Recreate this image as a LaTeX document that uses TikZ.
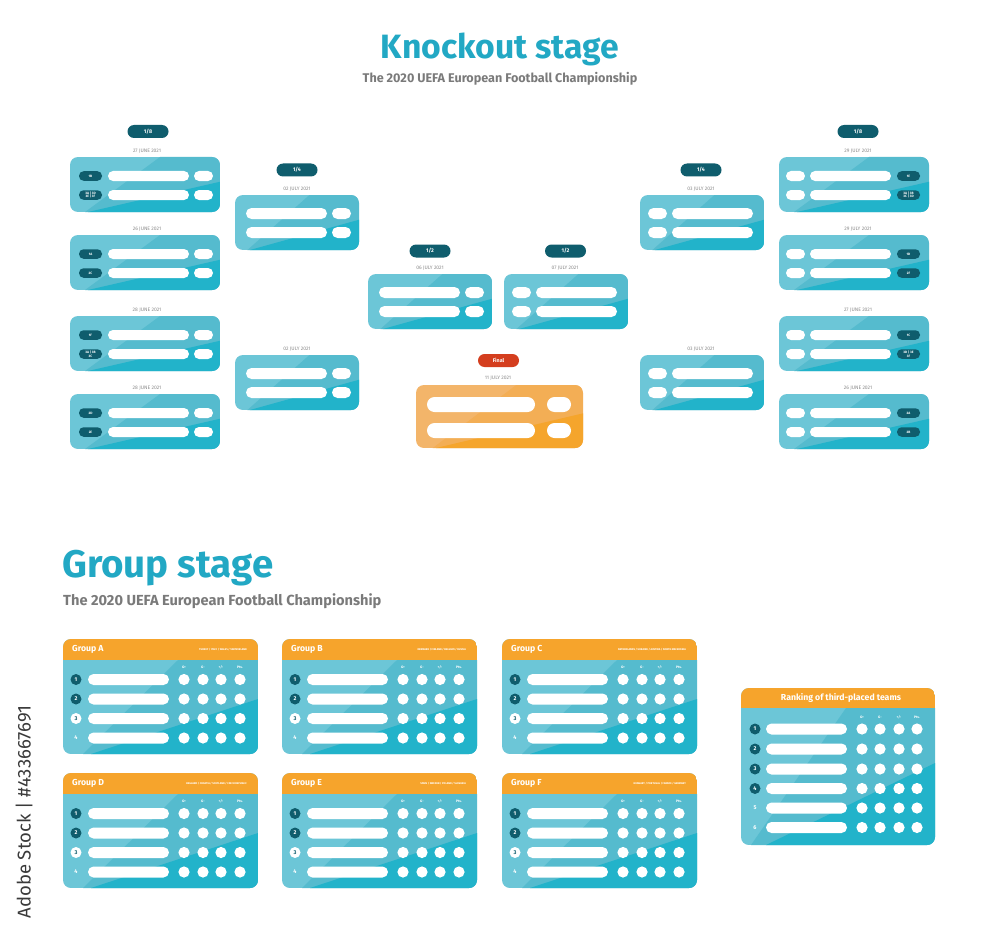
\documentclass[tikz,border=0pt]{standalone}
\usepackage{fontspec}
\setmainfont{Fira Sans}
\definecolor{titleteal}{HTML}{22A8C4}
\definecolor{subgrey}{HTML}{7A7A7A}
\definecolor{dategrey}{HTML}{8C8C8C}
\definecolor{darkteal}{HTML}{0F5D6D}
\definecolor{cardlight}{HTML}{6CC6D7}
\definecolor{cardmid}{HTML}{55BBCE}
\definecolor{cardbright}{HTML}{22B3CA}
\definecolor{headorange}{HTML}{F6A42C}
\definecolor{finallight}{HTML}{F3B56A}
\definecolor{finalmid}{HTML}{F3AE55}
\definecolor{finalbright}{HTML}{F5A52C}
\definecolor{finalred}{HTML}{D43E1E}
\definecolor{wmgrey}{HTML}{3A3A3A}
\tikzset{
  kopill/.style={fill=darkteal, rounded corners=6.5pt, minimum width=41pt, minimum height=13pt, inner sep=0pt, text=white, font=\bfseries\fontsize{5.3}{6}\selectfont},
  datelbl/.style={text=dategrey, font=\fontsize{5}{6}\selectfont, inner sep=0pt},
  tagp/.style={fill=darkteal, rounded corners=4.5pt, minimum width=23pt, minimum height=9.5pt, inner sep=0pt, text=white, align=center, font=\bfseries\fontsize{3.3}{3.4}\selectfont},
  grouptitle/.style={text=white, inner sep=0pt, font=\bfseries\fontsize{8.7}{10}\selectfont},
  countries/.style={text=white, inner sep=0pt, font=\bfseries\fontsize{2.6}{3}\selectfont},
  colhead/.style={text=white, inner sep=0pt, font=\bfseries\fontsize{3.4}{4}\selectfont},
  numdark/.style={circle, fill=darkteal, minimum size=11pt, inner sep=0pt, text=white, font=\bfseries\fontsize{5.5}{6}\selectfont},
  numwhite/.style={circle, fill=white, minimum size=11pt, inner sep=0pt, text=darkteal, font=\bfseries\fontsize{5.5}{6}\selectfont},
  numplain/.style={circle, minimum size=11pt, inner sep=0pt, text=white, font=\bfseries\fontsize{5.5}{6}\selectfont},
}
% card background: x y w h light mid bright
\newcommand{\cardbg}[7]{%
  \begin{scope}[shift={(#1,#2)}]
    \clip[rounded corners=8pt] (0,0) rectangle (#3,#4);
    \fill[#5] (0,0) rectangle (#3,#4);
    \fill[#6] (0.6*#3,0) -- (#3,0) -- (#3,#4) -- (0.1*#3,#4) -- cycle;
    \fill[#7] (0.12*#3,#4) -- (#3,0.45*#4) -- (#3,#4) -- cycle;
  \end{scope}}
% left round of 16 card: name y date label1 label2
\newcommand{\eightL}[5]{%
  \cardbg{70}{#2}{150}{55}{cardlight}{cardmid}{cardbright}
  \node[datelbl] (#1d) at (147,#2-6) {#3};
  \begin{scope}[shift={(70,#2)}]
    \fill[white, rounded corners=5pt] (38,14) rectangle (119,24);
    \fill[white, rounded corners=5pt] (124,14) rectangle (143,24);
    \fill[white, rounded corners=5pt] (38,33) rectangle (119,43);
    \fill[white, rounded corners=5pt] (124,33) rectangle (143,43);
    \node[tagp] (#1a) at (20.5,19) {#4};
    \node[tagp] (#1b) at (20.5,38) {#5};
  \end{scope}}
\newcommand{\eightR}[5]{%
  \cardbg{779}{#2}{150}{55}{cardlight}{cardmid}{cardbright}
  \node[datelbl] (#1d) at (858,#2-6) {#3};
  \begin{scope}[shift={(779,#2)}]
    \fill[white, rounded corners=5pt] (7,14) rectangle (26,24);
    \fill[white, rounded corners=5pt] (31,14) rectangle (112,24);
    \fill[white, rounded corners=5pt] (7,33) rectangle (26,43);
    \fill[white, rounded corners=5pt] (31,33) rectangle (112,43);
    \node[tagp] (#1a) at (129.5,19) {#4};
    \node[tagp] (#1b) at (129.5,38) {#5};
  \end{scope}}
% quarter / semi cards: name x y datex date
\newcommand{\qL}[5]{%
  \cardbg{#2}{#3}{124}{55}{cardlight}{cardmid}{cardbright}
  \node[datelbl] (#1d) at (#4,#3-6) {#5};
  \begin{scope}[shift={(#2,#3)}]
    \fill[white, rounded corners=5.5pt] (11,13) rectangle (92,24);
    \fill[white, rounded corners=5.5pt] (97,13) rectangle (116,24);
    \fill[white, rounded corners=5.5pt] (11,32) rectangle (92,43);
    \fill[white, rounded corners=5.5pt] (97,32) rectangle (116,43);
  \end{scope}}
\newcommand{\qR}[5]{%
  \cardbg{#2}{#3}{124}{55}{cardlight}{cardmid}{cardbright}
  \node[datelbl] (#1d) at (#4,#3-6) {#5};
  \begin{scope}[shift={(#2,#3)}]
    \fill[white, rounded corners=5.5pt] (8,13) rectangle (27,24);
    \fill[white, rounded corners=5.5pt] (32,13) rectangle (113,24);
    \fill[white, rounded corners=5.5pt] (8,32) rectangle (27,43);
    \fill[white, rounded corners=5.5pt] (32,32) rectangle (113,43);
  \end{scope}}
% group card: name x y title countries
\newcommand{\groupcard}[5]{%
  \begin{scope}[shift={(#2,#3)}]
    \begin{scope}
      \clip[rounded corners=8pt] (0,0) rectangle (195,115);
      \fill[cardlight] (0,0) rectangle (195,115);
      \fill[cardmid] (115,21) -- (195,21) -- (195,115) -- (20,115) -- cycle;
      \fill[cardbright] (28,115) -- (195,60) -- (195,115) -- cycle;
      \fill[headorange] (0,0) rectangle (195,21);
    \end{scope}
    \node[grouptitle, anchor=west] (#1t) at (9,10.5) {#4};
    \node[countries, anchor=east] (#1c) at (184,10.5) {#5};
    \node[colhead] (#1h1) at (121,28) {G+};
    \node[colhead] (#1h2) at (140,28) {G-};
    \node[colhead] (#1h3) at (158,28) {+/-};
    \node[colhead] (#1h4) at (177,28) {Pts.};
    \foreach \yy/\nn/\st in {40.5/1/numdark, 60/2/numdark, 79.5/3/numwhite, 99/4/numplain} {
      \node[\st] (#1n\nn) at (13,\yy) {\nn};
      \fill[white, rounded corners=5.5pt] (25,\yy-5.5) rectangle (106,\yy+5.5);
      \foreach \xx in {121,140,158,177} \fill[white] (\xx,\yy) circle (5.6pt);
    }
  \end{scope}}
\begin{document}
\begin{tikzpicture}[x=1pt,y=-1pt]
\useasboundingbox (0,0) rectangle (1000,944);
\fill[white] (0,0) rectangle (1000,944);

% Titles
\node[text=titleteal, font=\bfseries\fontsize{33.7}{40}\selectfont] (ktitle) at (500,49) {Knockout stage};
\node[text=subgrey, font=\bfseries\fontsize{12.6}{15}\selectfont] (ksub) at (500,79) {The 2020 UEFA European Football Championship};
\node[text=titleteal, anchor=west, inner sep=0pt, font=\bfseries\fontsize{38.5}{44}\selectfont] (gtitle) at (62,568) {Group stage};
\node[text=subgrey, anchor=west, inner sep=0pt, font=\bfseries\fontsize{14.6}{17}\selectfont] (gsub) at (63,601) {The 2020 UEFA European Football Championship};

% Round labels
\node[kopill] (p8l) at (148,131.5) {1/8};
\node[kopill] (p8r) at (858,131.5) {1/8};
\node[kopill] (p4l) at (297,170) {1/4};
\node[kopill] (p4r) at (701,170) {1/4};
\node[kopill] (p2l) at (430,251) {1/2};
\node[kopill] (p2r) at (565.5,251) {1/2};
\node[kopill, fill=finalred] (pf) at (498.5,360.5) {Final};

% Round of 16, left
\eightL{l1}{157}{27 JUNE 2021}{1B}{3A | 3D\\3E | 3F}
\eightL{l2}{235}{26 JUNE 2021}{1A}{2C}
\eightL{l3}{316}{28 JUNE 2021}{1F}{3A | 3B\\3C}
\eightL{l4}{394}{28 JUNE 2021}{2D}{2E}
% Round of 16, right
\eightR{r1}{157}{29 JULY 2021}{1E}{3A | 3B\\3C | 3D}
\eightR{r2}{235}{29 JULY 2021}{1D}{2F}
\eightR{r3}{316}{27 JUNE 2021}{1C}{3D | 3E\\3F}
\eightR{r4}{394}{26 JUNE 2021}{2A}{2B}

% Quarter finals
\qL{ql1}{235}{195}{297}{02 JULY 2021}
\qL{ql2}{235}{355}{297}{02 JULY 2021}
\qR{qr1}{640}{195}{701}{03 JULY 2021}
\qR{qr2}{640}{355}{701}{03 JULY 2021}
% Semi finals
\qL{sl}{368}{274}{430}{06 JULY 2021}
\qR{sr}{504}{274}{565}{07 JULY 2021}

% Final
\cardbg{416}{385}{167}{63}{finallight}{finalmid}{finalbright}
\node[datelbl] (fd) at (498,378) {11 JULY 2021};
\begin{scope}[shift={(416,385)}]
  \fill[white, rounded corners=7.5pt] (11,12) rectangle (119,27);
  \fill[white, rounded corners=7.5pt] (131,12) rectangle (155,27);
  \fill[white, rounded corners=7.5pt] (11,38) rectangle (119,53);
  \fill[white, rounded corners=7.5pt] (131,38) rectangle (155,53);
\end{scope}

% Group cards
\groupcard{ga}{63}{639}{Group A}{TURKEY / ITALY / WALES / SWITZERLAND}
\groupcard{gb}{282}{639}{Group B}{DENMARK / FINLAND / BELGIUM / RUSSIA}
\groupcard{gc}{502}{639}{Group C}{NETHERLANDS / UKRAINE / AUSTRIA / NORTH MACEDONIA}
\groupcard{gd}{63}{773}{Group D}{ENGLAND / CROATIA / SCOTLAND / CZECH REPUBLIC}
\groupcard{ge}{282}{773}{Group E}{SPAIN / SWEDEN / POLAND / SLOVAKIA}
\groupcard{gf}{502}{773}{Group F}{HUNGARY / PORTUGAL / FRANCE / GERMANY}

% Ranking of third-placed teams
\begin{scope}[shift={(741,688)}]
  \begin{scope}
    \clip[rounded corners=8pt] (0,0) rectangle (194,157);
    \fill[cardlight] (0,0) rectangle (194,157);
    \fill[cardmid] (105,20) -- (194,20) -- (194,157) -- (10,157) -- cycle;
    \fill[cardbright] (25,157) -- (194,75) -- (194,157) -- cycle;
    \fill[headorange] (0,0) rectangle (194,20);
  \end{scope}
  \node[grouptitle] (rkt) at (100,10) {Ranking of third-placed teams};
  \node[colhead] (rkh1) at (121,29) {G+};
  \node[colhead] (rkh2) at (139,29) {G-};
  \node[colhead] (rkh3) at (158,29) {+/-};
  \node[colhead] (rkh4) at (176,29) {Pts.};
  \foreach \yy/\nn/\st in {41/1/numdark, 61/2/numdark, 81/3/numdark, 100.5/4/numdark, 120/5/numplain, 139.5/6/numplain} {
    \node[\st] (rkn\nn) at (14,\yy) {\nn};
    \fill[white, rounded corners=5.5pt] (25,\yy-5.5) rectangle (106,\yy+5.5);
    \foreach \xx in {121,139,158,176} \fill[white] (\xx,\yy) circle (5.6pt);
  }
\end{scope}

% Stock watermark text
\node[rotate=90, text=wmgrey, inner sep=0pt, font=\fontsize{18.5}{21}\selectfont] (wm) at (24,812) {Adobe Stock | \#433667691};
\end{tikzpicture}
\end{document}
